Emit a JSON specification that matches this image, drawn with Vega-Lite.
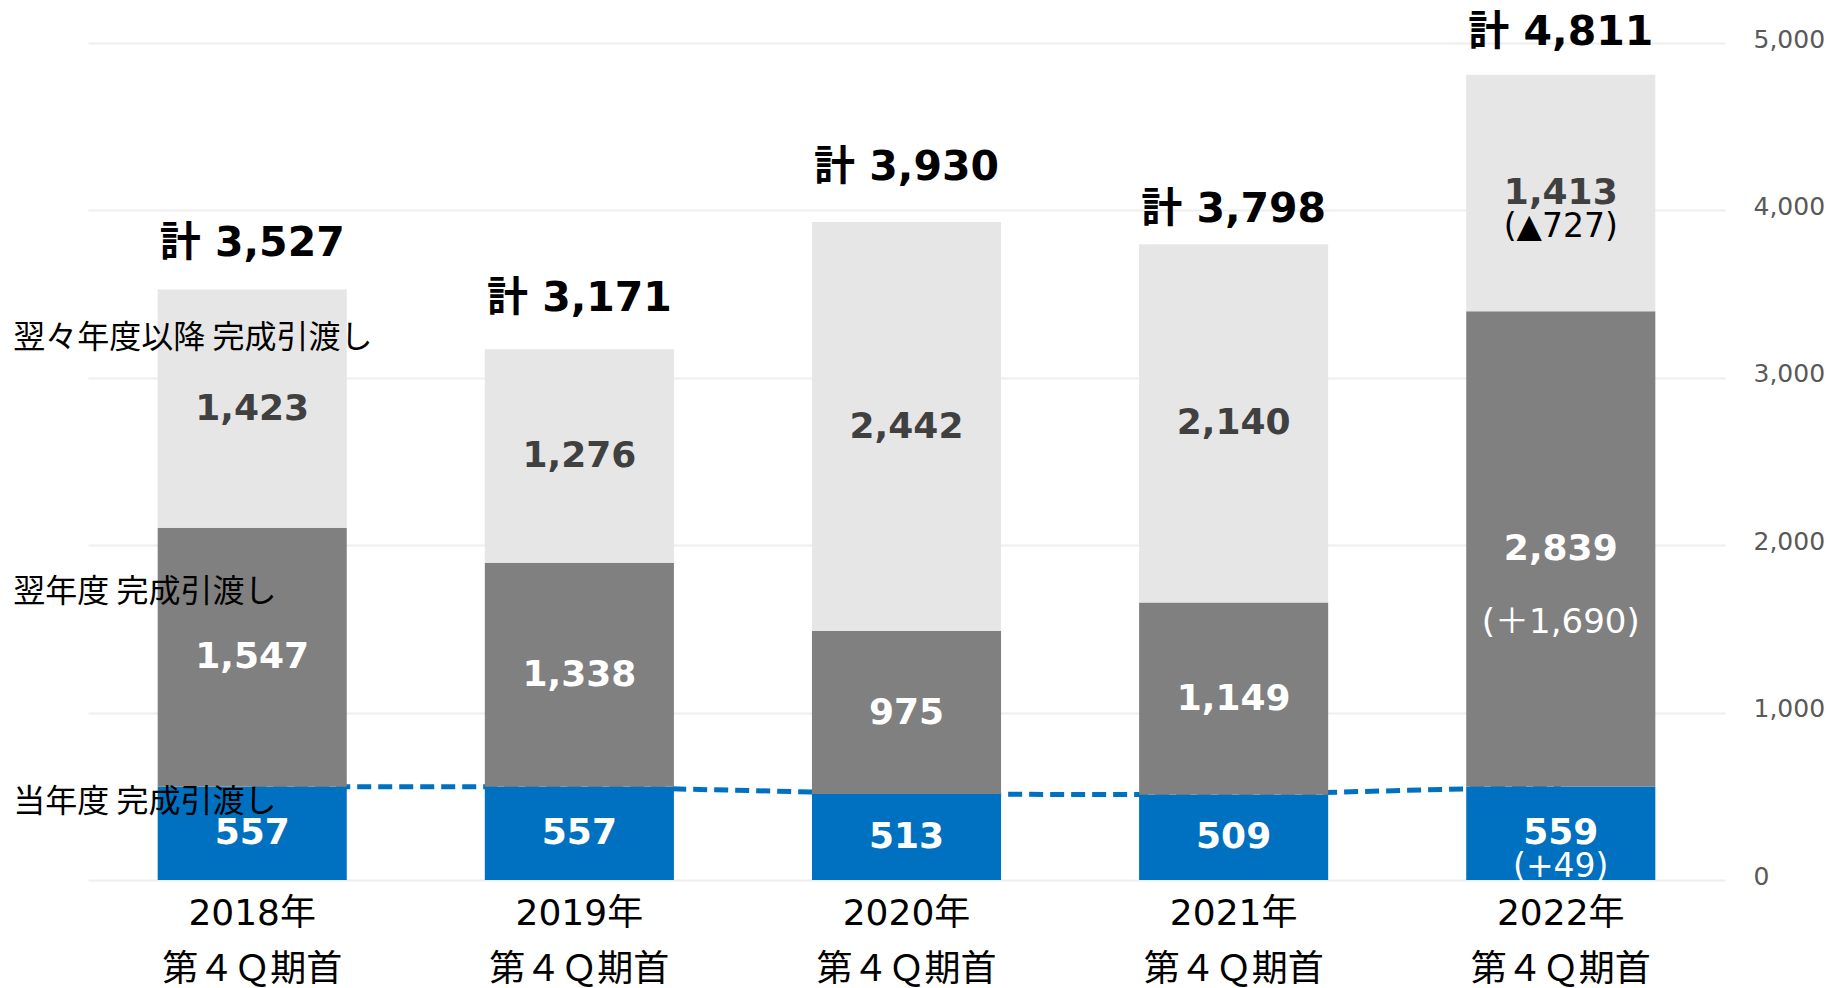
{
  "$schema": "https://vega.github.io/schema/vega-lite/v6.json",
  "autosize": {"type": "none"},
  "padding": {"left": 88, "top": 43, "right": 106, "bottom": 108},
  "width": 1637,
  "height": 837,
  "background": "white",
  "config": {
    "view": {"stroke": null},
    "font": "DejaVu Sans, Noto Sans CJK JP",
    "axisY": {
      "domain": false, "ticks": false, "grid": true, "gridColor": "#EEEEEE", "gridWidth": 2,
      "labelFontSize": 25, "labelColor": "#595959", "labelPadding": 28, "labelFont": "DejaVu Sans",
      "labelOffset": -4
    }
  },
  "datasets": {
    "main": [
      {"year": "2018年", "seg": "当年度", "k": 1, "v": 557, "note": ""},
      {"year": "2018年", "seg": "翌年度", "k": 2, "v": 1547, "note": ""},
      {"year": "2018年", "seg": "翌々年度以降", "k": 3, "v": 1423, "note": ""},
      {"year": "2019年", "seg": "当年度", "k": 1, "v": 557, "note": ""},
      {"year": "2019年", "seg": "翌年度", "k": 2, "v": 1338, "note": ""},
      {"year": "2019年", "seg": "翌々年度以降", "k": 3, "v": 1276, "note": ""},
      {"year": "2020年", "seg": "当年度", "k": 1, "v": 513, "note": ""},
      {"year": "2020年", "seg": "翌年度", "k": 2, "v": 975, "note": ""},
      {"year": "2020年", "seg": "翌々年度以降", "k": 3, "v": 2442, "note": ""},
      {"year": "2021年", "seg": "当年度", "k": 1, "v": 509, "note": ""},
      {"year": "2021年", "seg": "翌年度", "k": 2, "v": 1149, "note": ""},
      {"year": "2021年", "seg": "翌々年度以降", "k": 3, "v": 2140, "note": ""},
      {"year": "2022年", "seg": "当年度", "k": 1, "v": 559, "note": "(+49)"},
      {"year": "2022年", "seg": "翌年度", "k": 2, "v": 2839, "note": "(＋1,690)"},
      {"year": "2022年", "seg": "翌々年度以降", "k": 3, "v": 1413, "note": "(▲727)"}
    ]
  },
  "layer": [
    {
      "data": {"name": "main"},
      "transform": [
        {"stack": "v", "groupby": ["year"], "sort": [{"field": "k", "order": "ascending"}], "as": ["v0", "v1"]},
        {"calculate": "(datum.v0 + datum.v1) / 2", "as": "mid"},
        {"calculate": "'計 ' + format(datum.v1, ',')", "as": "totlabel"}
      ],
      "encoding": {
        "x": {
          "field": "year", "type": "nominal", "sort": null,
          "scale": {"paddingInner": 0.422, "paddingOuter": 0.213},
          "axis": {
            "title": null, "labelAngle": 0, "domain": false, "ticks": false,
            "labelFontSize": 36, "labelColor": "#000000", "labelPadding": 16, "labelLimit": 0,
            "labelExpr": "[datum.value, '第４Ｑ期首']", "labelLineHeight": 56,
            "labelFont": "DejaVu Sans, Noto Sans CJK JP", "labelBaseline": "top"
          }
        }
      },
      "layer": [
        {
          "transform": [{"filter": "datum.k === 1"}],
          "mark": {"type": "line", "color": "#0070C0", "strokeWidth": 5, "strokeDash": [14, 7]},
          "encoding": {
            "y": {"field": "v1", "type": "quantitative", "title": null, "scale": {"domain": [0, 5000], "nice": false},
                  "axis": {"orient": "right", "format": ",.0f", "values": [0, 1000, 2000, 3000, 4000, 5000]}}
          }
        },
        {
          "mark": {"type": "bar"},
          "encoding": {
            "y": {"field": "v0", "type": "quantitative", "title": null, "scale": {"domain": [0, 5000], "nice": false},
                  "axis": {"orient": "right", "format": ",.0f", "values": [0, 1000, 2000, 3000, 4000, 5000]}},
            "y2": {"field": "v1"},
            "color": {
              "field": "seg", "type": "nominal", "legend": null,
              "scale": {"domain": ["当年度", "翌年度", "翌々年度以降"], "range": ["#0070C0", "#808080", "#E6E6E6"]}
            }
          }
        },
        {
          "mark": {"type": "text", "fontWeight": "bold", "fontSize": 36, "baseline": "middle", "font": "DejaVu Sans"},
          "encoding": {
            "y": {"field": "mid", "type": "quantitative", "title": null, "axis": {"orient": "right", "format": ",.0f", "values": [0, 1000, 2000, 3000, 4000, 5000]}},
            "text": {"field": "v", "type": "quantitative", "format": ","},
            "color": {"condition": {"test": "datum.k === 3", "value": "#404040"}, "value": "#FFFFFF"}
          }
        },
        {
          "transform": [{"filter": "datum.k === 3 && datum.note !== ''"}],
          "mark": {"type": "text", "fontSize": 33, "baseline": "middle", "dy": 34, "color": "#000000", "font": "DejaVu Sans, Noto Sans CJK JP"},
          "encoding": {
            "y": {"field": "mid", "type": "quantitative", "title": null, "axis": {"orient": "right", "format": ",.0f", "values": [0, 1000, 2000, 3000, 4000, 5000]}},
            "text": {"field": "note"}
          }
        },
        {
          "transform": [{"filter": "datum.k === 2 && datum.note !== ''"}],
          "mark": {"type": "text", "fontSize": 34, "baseline": "middle", "dy": 74, "color": "#FFFFFF", "font": "DejaVu Sans, Noto Sans CJK JP"},
          "encoding": {
            "y": {"field": "mid", "type": "quantitative", "title": null, "axis": {"orient": "right", "format": ",.0f", "values": [0, 1000, 2000, 3000, 4000, 5000]}},
            "text": {"field": "note"}
          }
        },
        {
          "transform": [{"filter": "datum.k === 1 && datum.note !== ''"}],
          "mark": {"type": "text", "fontSize": 33, "baseline": "middle", "dy": 34, "color": "#FFFFFF", "font": "DejaVu Sans, Noto Sans CJK JP"},
          "encoding": {
            "y": {"field": "mid", "type": "quantitative", "title": null, "axis": {"orient": "right", "format": ",.0f", "values": [0, 1000, 2000, 3000, 4000, 5000]}},
            "text": {"field": "note"}
          }
        },
        {
          "transform": [{"filter": "datum.k === 3 && datum.year === '2018年'"}],
          "mark": {"type": "text", "fontSize": 41, "fontWeight": "bold", "baseline": "middle", "dy": -46, "color": "#000000", "font": "DejaVu Sans, Noto Sans CJK JP"},
          "encoding": {
            "y": {"field": "v1", "type": "quantitative", "title": null, "axis": {"orient": "right", "format": ",.0f", "values": [0, 1000, 2000, 3000, 4000, 5000]}},
            "text": {"field": "totlabel"}
          }
        },
        {
          "transform": [{"filter": "datum.k === 3 && datum.year === '2019年'"}],
          "mark": {"type": "text", "fontSize": 41, "fontWeight": "bold", "baseline": "middle", "dy": -50, "color": "#000000", "font": "DejaVu Sans, Noto Sans CJK JP"},
          "encoding": {
            "y": {"field": "v1", "type": "quantitative", "title": null, "axis": {"orient": "right", "format": ",.0f", "values": [0, 1000, 2000, 3000, 4000, 5000]}},
            "text": {"field": "totlabel"}
          }
        },
        {
          "transform": [{"filter": "datum.k === 3 && datum.year === '2020年'"}],
          "mark": {"type": "text", "fontSize": 41, "fontWeight": "bold", "baseline": "middle", "dy": -54, "color": "#000000", "font": "DejaVu Sans, Noto Sans CJK JP"},
          "encoding": {
            "y": {"field": "v1", "type": "quantitative", "title": null, "axis": {"orient": "right", "format": ",.0f", "values": [0, 1000, 2000, 3000, 4000, 5000]}},
            "text": {"field": "totlabel"}
          }
        },
        {
          "transform": [{"filter": "datum.k === 3 && datum.year === '2021年'"}],
          "mark": {"type": "text", "fontSize": 41, "fontWeight": "bold", "baseline": "middle", "dy": -34, "color": "#000000", "font": "DejaVu Sans, Noto Sans CJK JP"},
          "encoding": {
            "y": {"field": "v1", "type": "quantitative", "title": null, "axis": {"orient": "right", "format": ",.0f", "values": [0, 1000, 2000, 3000, 4000, 5000]}},
            "text": {"field": "totlabel"}
          }
        },
        {
          "transform": [{"filter": "datum.k === 3 && datum.year === '2022年'"}],
          "mark": {"type": "text", "fontSize": 41, "fontWeight": "bold", "baseline": "middle", "dy": -42, "color": "#000000", "font": "DejaVu Sans, Noto Sans CJK JP"},
          "encoding": {
            "y": {"field": "v1", "type": "quantitative", "title": null, "axis": {"orient": "right", "format": ",.0f", "values": [0, 1000, 2000, 3000, 4000, 5000]}},
            "text": {"field": "totlabel"}
          }
        }
      ]
    },
    {
      "data": {"values": [{"t": "翌々年度以降 完成引渡し"}]},
      "mark": {"type": "text", "fontSize": 32, "align": "left", "baseline": "middle", "dx": -239, "color": "#000000", "font": "Noto Sans CJK JP"},
      "encoding": {
        "x": {"datum": "2018年", "type": "nominal"},
        "y": {"datum": 3238, "type": "quantitative", "title": null, "axis": {"orient": "right", "format": ",.0f", "values": [0, 1000, 2000, 3000, 4000, 5000]}},
        "text": {"field": "t"}
      }
    },
    {
      "data": {"values": [{"t": "翌年度 完成引渡し"}]},
      "mark": {"type": "text", "fontSize": 32, "align": "left", "baseline": "middle", "dx": -239, "color": "#000000", "font": "Noto Sans CJK JP"},
      "encoding": {
        "x": {"datum": "2018年", "type": "nominal"},
        "y": {"datum": 1720, "type": "quantitative", "title": null, "axis": {"orient": "right", "format": ",.0f", "values": [0, 1000, 2000, 3000, 4000, 5000]}},
        "text": {"field": "t"}
      }
    },
    {
      "data": {"values": [{"t": "当年度 完成引渡し"}]},
      "mark": {"type": "text", "fontSize": 32, "align": "left", "baseline": "middle", "dx": -239, "color": "#000000", "font": "Noto Sans CJK JP"},
      "encoding": {
        "x": {"datum": "2018年", "type": "nominal"},
        "y": {"datum": 466, "type": "quantitative", "title": null, "axis": {"orient": "right", "format": ",.0f", "values": [0, 1000, 2000, 3000, 4000, 5000]}},
        "text": {"field": "t"}
      }
    }
  ]
}
